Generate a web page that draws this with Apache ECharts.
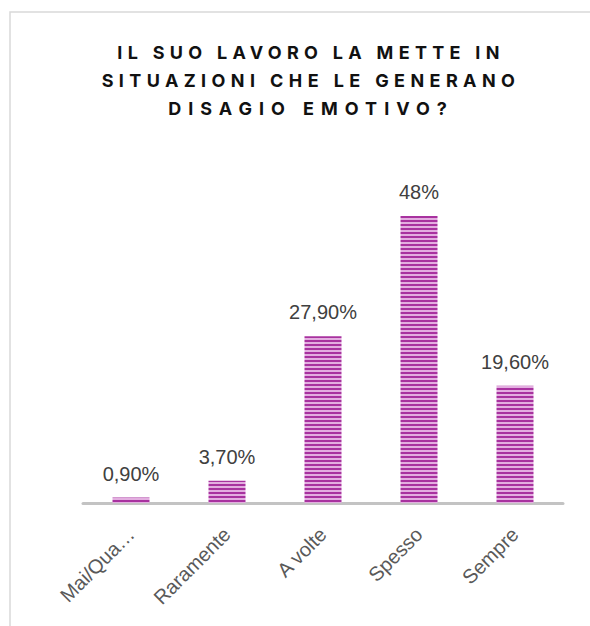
<!DOCTYPE html>
<html><head><meta charset="utf-8">
<script src="https://cdn.jsdelivr.net/npm/echarts@6/dist/echarts.min.js"></script>
<style>html,body{margin:0;padding:0;background:#fff}#c{width:590px;height:626px}</style>
</head><body><div id="c"></div>
<script>
const categories = ['Mai/Qua…', 'Raramente', 'A volte', 'Spesso', 'Sempre'];
const values = [0.9, 3.7, 27.9, 48, 19.6];
const valueLabels = ['0,90%', '3,70%', '27,90%', '48%', '19,60%'];
const titleLines = ['IL SUO LAVORO LA METTE IN', 'SITUAZIONI CHE LE GENERANO', 'DISAGIO EMOTIVO?'];
const titleSpacing = [5.3, 5.4, 7];

const pc = document.createElement('canvas');
pc.width = 4; pc.height = 4;
const g = pc.getContext('2d');
g.fillStyle = '#e3aee0'; g.fillRect(0,0,4,4);
g.fillStyle = '#a8329f'; g.fillRect(0,0,4,2);

const chart = echarts.init(document.getElementById('c'), null, {renderer:'svg'});
chart.setOption({
  backgroundColor: '#fff',
  animation: false,
  graphic: [{
    type: 'rect', shape: {x: 10, y: 12, width: 600, height: 640},
    style: {fill: 'none', stroke: '#d9d9d9', lineWidth: 1.5}
  }],
  title: {
    text: titleLines.join('\n'), left: 306, top: 33, textAlign: 'center',
    textStyle: {fontFamily: 'Inter', fontWeight: 'bold', fontSize: 18, color: '#111', lineHeight: 28}
  },
  grid: {left: 83, right: 27, top: 204, bottom: 123, containLabel: false},
  xAxis: {
    type: 'category', data: categories,
    axisLine: {lineStyle: {color: '#c3c3c3', width: 3}},
    axisTick: {show: false},
    axisLabel: {rotate: 45, color: '#595959', fontSize: 20, fontFamily: 'Liberation Sans', margin: 28, interval: 0}
  },
  yAxis: {type: 'value', min: 0, max: 50, show: false, splitLine: {show: false}},
  series: [{
    type: 'bar', data: values, barWidth: 37,
    itemStyle: {color: {image: pc, repeat: 'repeat'}},
    label: {show: true, position: 'top', distance: 14, color: '#404040', fontSize: 20, fontFamily: 'Liberation Sans',
      formatter: p => valueLabels[p.dataIndex]}
  }]
});
function spaceTitle(){
  document.querySelectorAll('#c svg text').forEach(t => {
    const i = titleLines.indexOf(t.textContent.trim());
    if (i >= 0) t.setAttribute('letter-spacing', titleSpacing[i] + 'px');
  });
}
spaceTitle();
chart.on('finished', spaceTitle);
</script></body></html>
